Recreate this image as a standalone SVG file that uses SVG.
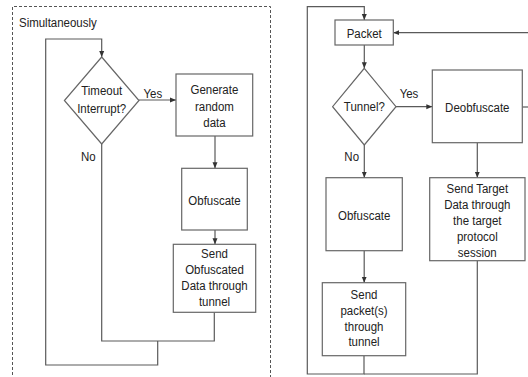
<svg xmlns="http://www.w3.org/2000/svg" width="528" height="377" viewBox="0 0 528 377">
  <style>
    .frame { fill: none; stroke: #555; stroke-width: 1; stroke-dasharray: 3 2; }
    .box { fill: #fff; stroke: #666; stroke-width: 1.2; }
    .wire { fill: none; stroke: #5a5a5a; stroke-width: 1.2; }
    text { font-family: "Liberation Sans", Arial, sans-serif; font-size: 13.5px; fill: #222; }
    .c { text-anchor: middle; }
  </style>
  <defs>
    <marker id="arrow" markerUnits="userSpaceOnUse" markerWidth="6" markerHeight="6" refX="6" refY="3" orient="auto">
      <path d="M0,0.5 L6,3 L0,5.5 z" fill="#333"/>
    </marker>
  </defs>

  <rect width="528" height="377" fill="#fff"/>

  <!-- left panel: dashed frame for the parallel process -->
  <path class="frame" d="M12.5,380 V6.5 H270.5 V380"/>
  <text transform="matrix(0.85 0 0 1 19 0)" x="0" y="27.3">Simultaneously</text>

  <g id="connectors">
    <!-- left flow -->
    <path class="wire" d="M157.7,341 V365 H45.7 V39 H101.7 V57" marker-end="url(#arrow)"/>
    <path class="wire" d="M139,100 H176" marker-end="url(#arrow)"/>
    <path class="wire" d="M215,136 V168.3" marker-end="url(#arrow)"/>
    <path class="wire" d="M215,230 V244.3" marker-end="url(#arrow)"/>
    <path class="wire" d="M101.7,144 V341 H214.3 V312.3"/>
    <text class="c" transform="matrix(0.85 0 0 1 152.8 0)" x="0" y="98">Yes</text>
    <text class="c" transform="matrix(0.85 0 0 1 88.3 0)" x="0" y="161.5">No</text>

    <!-- right flow -->
    <path class="wire" d="M364,355.7 V374 H307.3 V6.7 H364.3 V20" marker-end="url(#arrow)"/>
    <path class="wire" d="M477.3,260.7 V374 H364"/>
    <path class="wire" d="M530,32.7 H393.3" marker-end="url(#arrow)"/>
    <path class="wire" d="M522.3,107 H530"/>
    <path class="wire" d="M364.3,45 V68.3" marker-end="url(#arrow)"/>
    <path class="wire" d="M396,106.7 H432.3" marker-end="url(#arrow)"/>
    <path class="wire" d="M364.3,145 V177.7" marker-end="url(#arrow)"/>
    <path class="wire" d="M364.2,250.7 V282.7" marker-end="url(#arrow)"/>
    <path class="wire" d="M477.3,142.7 V177.7" marker-end="url(#arrow)"/>
    <text class="c" transform="matrix(0.85 0 0 1 409 0)" x="0" y="98.5">Yes</text>
    <text class="c" transform="matrix(0.85 0 0 1 351.7 0)" x="0" y="161.5">No</text>
  </g>

  <g id="timeout">
    <polygon class="box" points="101.7,57 139,100.5 101.7,144 64.4,100.5"/>
    <text class="c" transform="matrix(0.85 0 0 1 101.7 0)"><tspan x="0" y="95.2">Timeout</tspan><tspan x="0" y="113.3">Interrupt?</tspan></text>
  </g>

  <g id="generate">
    <rect class="box" x="176" y="74" width="76.7" height="62"/>
    <text class="c" transform="matrix(0.85 0 0 1 214.4 0)"><tspan x="0" y="94.3">Generate</tspan><tspan x="0" y="110.8">random</tspan><tspan x="0" y="127.2">data</tspan></text>
  </g>

  <g id="obfuscate-left">
    <rect class="box" x="181.7" y="168.3" width="65.6" height="61.7"/>
    <text class="c" transform="matrix(0.85 0 0 1 214.5 0)" x="0" y="204.8">Obfuscate</text>
  </g>

  <g id="send-obfuscated">
    <rect class="box" x="173.3" y="244.3" width="82.4" height="68"/>
    <text class="c" transform="matrix(0.85 0 0 1 214.5 0)"><tspan x="0" y="258.5">Send</tspan><tspan x="0" y="274.3">Obfuscated</tspan><tspan x="0" y="290">Data through</tspan><tspan x="0" y="305.7">tunnel</tspan></text>
  </g>

  <g id="packet">
    <rect class="box" x="335" y="20" width="58.3" height="25"/>
    <text class="c" transform="matrix(0.85 0 0 1 364.2 0)" x="0" y="38">Packet</text>
  </g>

  <g id="tunnel">
    <polygon class="box" points="364.3,68.3 396,106.7 364.3,145 332.6,106.7"/>
    <text class="c" transform="matrix(0.85 0 0 1 364.3 0)" x="0" y="111.5">Tunnel?</text>
  </g>

  <g id="deobfuscate">
    <rect class="box" x="432.3" y="70" width="90" height="72.7"/>
    <text class="c" transform="matrix(0.85 0 0 1 477.3 0)" x="0" y="112">Deobfuscate</text>
  </g>

  <g id="obfuscate-right">
    <rect class="box" x="326" y="177.7" width="76.3" height="73"/>
    <text class="c" transform="matrix(0.85 0 0 1 364.2 0)" x="0" y="219.8">Obfuscate</text>
  </g>

  <g id="send-packets">
    <rect class="box" x="322.3" y="282.7" width="83.4" height="73"/>
    <text class="c" transform="matrix(0.85 0 0 1 364 0)"><tspan x="0" y="299">Send</tspan><tspan x="0" y="315">packet(s)</tspan><tspan x="0" y="330.7">through</tspan><tspan x="0" y="346.3">tunnel</tspan></text>
  </g>

  <g id="send-target">
    <rect class="box" x="429.7" y="177.7" width="95.3" height="83"/>
    <text class="c" transform="matrix(0.85 0 0 1 477.3 0)"><tspan x="0" y="193">Send Target</tspan><tspan x="0" y="209">Data through</tspan><tspan x="0" y="225">the target</tspan><tspan x="0" y="241">protocol</tspan><tspan x="0" y="257">session</tspan></text>
  </g>
</svg>
